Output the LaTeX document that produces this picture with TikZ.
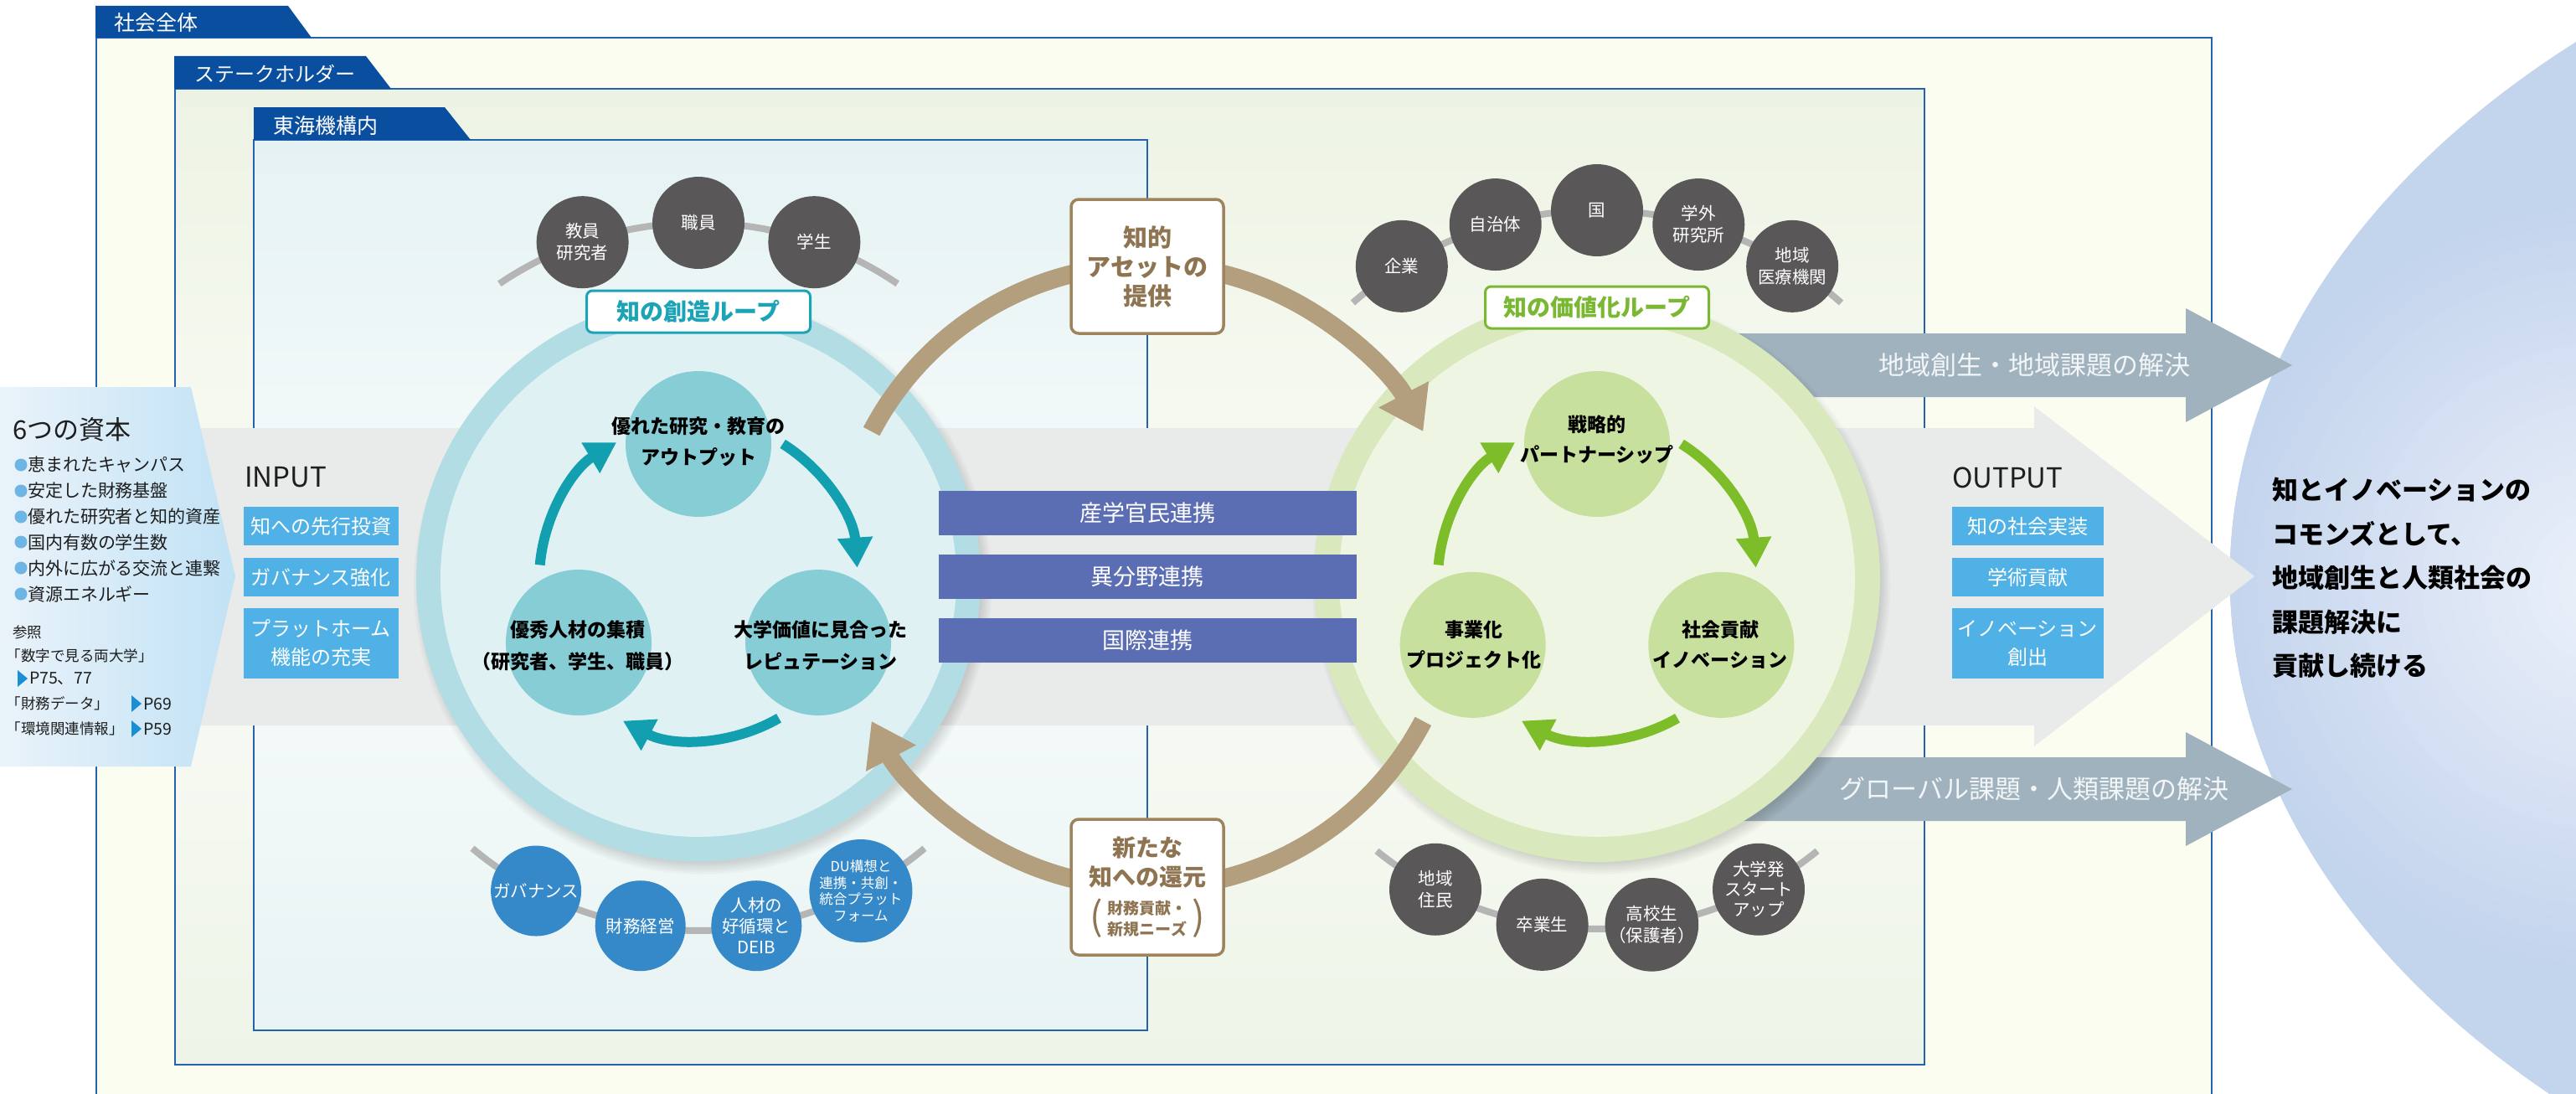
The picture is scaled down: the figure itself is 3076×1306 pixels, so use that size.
\documentclass[tikz,border=0pt]{standalone}
\usepackage{fontspec}
\setmainfont{Noto Sans CJK JP}
\usetikzlibrary{arrows.meta,calc}
\definecolor{tabblue}{HTML}{0A4F9F}
\definecolor{boxline}{HTML}{2462AE}
\definecolor{outerbg}{HTML}{FCFDF1}
\definecolor{shtop}{HTML}{EDF3E4}
\definecolor{shmid}{HTML}{FAFCF6}
\definecolor{shbot}{HTML}{EEF4E8}
\definecolor{intop}{HTML}{E5F2F3}
\definecolor{inmid}{HTML}{F9FCFC}
\definecolor{inbot}{HTML}{E8F3F3}
\definecolor{ellout}{HTML}{C3D4ED}
\definecolor{ellin}{HTML}{EBF0F9}
\definecolor{bandgrey}{HTML}{E9EBEA}
\definecolor{slate}{HTML}{9FB2BD}
\definecolor{slatetext}{HTML}{F3F6F8}
\definecolor{pentL}{HTML}{EAF3FA}
\definecolor{pentR}{HTML}{C1E2F5}
\definecolor{bulletc}{HTML}{6DB5E4}
\definecolor{tric}{HTML}{1A8FD6}
\definecolor{inblue}{HTML}{4FB1E5}
\definecolor{tealring}{HTML}{B3DDE4}
\definecolor{tealin}{HTML}{E0F1F4}
\definecolor{tealcirc}{HTML}{86CDD6}
\definecolor{tealarrow}{HTML}{12A0B0}
\definecolor{tealline}{HTML}{1BA4B6}
\definecolor{greenring}{HTML}{D9E9BD}
\definecolor{greenin}{HTML}{EEF5E3}
\definecolor{greencirc}{HTML}{C7E09D}
\definecolor{greenarrow}{HTML}{7DBD2A}
\definecolor{greenline}{HTML}{7AB833}
\definecolor{satdark}{HTML}{5A5758}
\definecolor{satblue}{HTML}{3689C9}
\definecolor{satarc}{HTML}{B5B5B5}
\definecolor{brownarc}{HTML}{B39E7E}
\definecolor{brownline}{HTML}{9E845D}
\definecolor{browntext}{HTML}{8E7451}
\definecolor{collabc}{HTML}{5C6EB3}
\definecolor{textdark}{HTML}{1E1E1E}
\newcommand\fsz[2]{\fontsize{#1}{#2}\selectfont}
\begin{document}
\begin{tikzpicture}[x=1pt,y=-1pt,
  every node/.style={inner sep=0pt, outer sep=0pt, text=textdark},
  tabtxt/.style={anchor=west, text=white, font=\fsz{25}{30}},
  boxborder/.style={draw=boxline, line width=2.5pt},
  inbox/.style={fill=inblue, text=white, font=\fsz{24}{34}, minimum width=185pt, align=center},
  collab/.style={fill=collabc, text=white, font=\fsz{27}{32}, minimum width=499pt, minimum height=53pt},
  sat/.style={circle, fill=satdark, minimum size=110pt, text=white, font=\fsz{20.5}{26}, align=center},
  bsat/.style={circle, fill=satblue, minimum size=108pt, text=white, font=\fsz{20.5}{25}, align=center},
  satarcs/.style={draw=satarc, line width=8pt},
  tcirc/.style={circle, fill=tealcirc, minimum size=174pt},
  gcirc/.style={circle, fill=greencirc, minimum size=174pt},
  looptxt/.style={font=\bfseries\fsz{23}{37}, align=center, text=black},
  tarrow/.style={draw=tealarrow, line width=12pt, -{Triangle[length=36pt,width=40pt]}},
  garrow/.style={draw=greenarrow, line width=12pt, -{Triangle[length=36pt,width=40pt]}},
  barrow/.style={draw=brownarc, line width=22pt, -{Triangle[length=50pt,width=64pt]}},
  looplabel/.style={fill=white, line width=3pt, rounded corners=7pt, minimum width=267pt, minimum height=50pt, font=\bfseries\fsz{28}{32}},
  brownbox/.style={draw=brownline, fill=white, line width=3.5pt, rounded corners=9pt, minimum width=182pt, text=browntext, font=\bfseries\fsz{29}{35}, align=center},
  slatetxt/.style={text=slatetext, font=\fsz{31}{36}},
  reftxt/.style={anchor=west, font=\fsz{17.5}{22}},
  pagetxt/.style={anchor=west, font=\fsz{19.5}{22}},
]
\useasboundingbox (0,0) rectangle (3076,1306);
% ---------- nested boxes ----------
\fill[outerbg] (115,45) rectangle (2641,1330);
\draw[boxborder] (115,1330) -- (115,45) -- (2641,45) -- (2641,1330);
\fill[tabblue] (114,7) -- (344,7) -- (372,45) -- (114,45) -- cycle;
\node[tabtxt] (t1) at (136,27) {社会全体};
\shade[top color=shtop, bottom color=shbot, middle color=shmid] (209,106) rectangle (2298,1271);
\draw[boxborder] (209,106) rectangle (2298,1271);
\fill[tabblue] (208,67) -- (437,67) -- (467,106) -- (208,106) -- cycle;
\node[tabtxt, font=\fsz{24}{30}] (t2) at (232,88) {ステークホルダー};
\shade[top color=intop, bottom color=inbot, middle color=inmid] (303,167) rectangle (1370,1230);
\draw[boxborder] (303,167) rectangle (1370,1230);
\fill[tabblue] (303,128) -- (531,128) -- (562,167) -- (303,167) -- cycle;
\node[tabtxt] (t3) at (326,150) {東海機構内};
% ---------- goal ellipse ----------
\path[fill=ellout] (3076,50) arc[start angle=-133.7, end angle=-226.3, x radius=1337, y radius=883] -- (3090,1330) -- (3090,30) -- cycle;
\begin{scope}
\clip (3076,50) arc[start angle=-133.7, end angle=-226.3, x radius=1337, y radius=883] -- (3090,1330) -- (3090,30) -- cycle;
\foreach \i in {0,...,24}{
  \pgfmathtruncatemacro\pc{\i*4}
  \pgfmathsetmacro\rr{470-\i*18}
  \fill[ellin!\pc!ellout] (3110,700) circle (\rr);
}
\end{scope}
% ---------- big band arrow ----------
\fill[bandgrey] (240,511) -- (2429,511) -- (2429,485) -- (2692,688) -- (2429,891) -- (2429,866) -- (240,866) -- cycle;
% ---------- slate arrows ----------
\fill[slate] (1990,398) -- (2610,398) -- (2610,368) -- (2737,436) -- (2610,504) -- (2610,474) -- (1990,474) -- cycle;
\fill[slate] (1990,904) -- (2610,904) -- (2610,874) -- (2737,942) -- (2610,1010) -- (2610,980) -- (1990,980) -- cycle;
\node[slatetxt] (ar1) at (2429,436) {地域創生・地域課題の解決};
\node[slatetxt] (ar2) at (2429,942) {グローバル課題・人類課題の解決};
% ---------- capital pentagon ----------
\shade[left color=pentL, right color=pentR] (0,462) -- (228,462) -- (281,688) -- (228,915) -- (0,915) -- cycle;
\node[anchor=west, font=\fsz{31}{34}] (cap) at (15,513) {6つの資本};
\foreach \yy/\txt in {555/恵まれたキャンパス, 586/安定した財務基盤, 617/優れた研究者と知的資産, 647/国内有数の学生数, 678/内外に広がる交流と連繋, 709/資源エネルギー}{
  \fill[bulletc] (25,\yy) circle (7.5);
  \node[anchor=west, font=\fsz{21}{24}] (cap\yy) at (33,\yy) {\txt};
}
\node[reftxt] (ref0) at (15,755) {参照};
\node[reftxt] (ref1) at (8,783) {「数字で見る両大学」};
\fill[tric] (21,800) -- (33,810) -- (21,820) -- cycle;
\node[pagetxt] (ref1p) at (35,810) {P75、77};
\node[reftxt] (ref2) at (8,840) {「財務データ」};
\fill[tric] (157,830) -- (169,840) -- (157,850) -- cycle;
\node[pagetxt] (ref2p) at (171,840) {P69};
\node[reftxt] (ref3) at (8,870) {「環境関連情報」};
\fill[tric] (157,860) -- (169,870) -- (157,880) -- cycle;
\node[pagetxt] (ref3p) at (171,870) {P59};
% ---------- INPUT / OUTPUT ----------
\node[anchor=west, font=\fsz{33}{36}] (input) at (292,570) {INPUT};
\node[inbox, minimum height=46pt] (in1) at (383,628) {知への先行投資};
\node[inbox, minimum height=46pt] (in2) at (383,689) {ガバナンス強化};
\node[inbox, minimum height=84pt] (in3) at (383,768) {プラットホーム\\機能の充実};
\node[anchor=west, font=\fsz{33}{36}] (output) at (2331,570) {OUTPUT};
\node[inbox, minimum width=181pt, minimum height=46pt] (o1) at (2421,628) {知の社会実装};
\node[inbox, minimum width=181pt, minimum height=46pt] (o2) at (2421,689) {学術貢献};
\node[inbox, minimum width=181pt, minimum height=84pt] (o3) at (2421,768) {イノベーション\\創出};
% ---------- centres ----------
\coordinate (L) at (834,691);
\coordinate (R) at (1907,691);
\coordinate (B) at (1370,688);
% ---------- satellite arcs ----------
\draw[satarcs] (L) ++(-124:425) arc[start angle=-124, end angle=-56, radius=425];
\draw[satarcs] (L) ++(50:420) arc[start angle=50, end angle=130, radius=420];
\draw[satarcs] (R) ++(-131.5:440) arc[start angle=-131.5, end angle=-48.5, radius=440];
\draw[satarcs] (R) ++(51:418) arc[start angle=51, end angle=129, radius=418];
% ---------- loops ----------
\foreach \k in {1,...,6}{
  \fill[black, opacity=0.022] ($(L)+(5,8)$) circle (330+2.5*\k);
  \fill[black, opacity=0.022] ($(R)+(5,8)$) circle (330+2.5*\k);
}
\fill[tealring] (L) circle (337);
\fill[tealin] (L) circle (308);
\fill[greenring] (R) circle (338);
\fill[greenin] (R) circle (308);
\node[tcirc] (lc1) at ($(L)+(-90:161)$) {};
\node[tcirc] (lc2) at ($(L)+(152:162)$) {};
\node[tcirc] (lc3) at ($(L)+(28:162)$) {};
\node[gcirc] (rc1) at ($(R)+(-90:161)$) {};
\node[gcirc] (rc2) at ($(R)+(152:168)$) {};
\node[gcirc] (rc3) at ($(R)+(28:168)$) {};
\node[looptxt] (lt1) at (834,527) {優れた研究・教育の\\アウトプット};
\node[looptxt, font=\bfseries\fsz{23}{38}] (lt2) at (690,771) {優秀人材の集積\\（研究者、学生、職員）};
\node[looptxt, font=\bfseries\fsz{23}{38}] (lt3) at (980,771) {大学価値に見合った\\レピュテーション};
\node[looptxt, font=\bfseries\fsz{23}{36}] (rt1) at (1907,525) {戦略的\\パートナーシップ};
\node[looptxt, font=\bfseries\fsz{23}{36}] (rt2) at (1760,770) {事業化\\プロジェクト化};
\node[looptxt, font=\bfseries\fsz{23}{36}] (rt3) at (2054,770) {社会貢献\\イノベーション};
\draw[tarrow] (L) ++(-175:190) arc[start angle=-175, end angle=-121, radius=190];
\draw[tarrow] (L) ++(-58:190) arc[start angle=-58, end angle=-4, radius=190];
\draw[tarrow] (L) ++(60:192) arc[start angle=60, end angle=118, radius=192];
\draw[garrow] (R) ++(-175:190) arc[start angle=-175, end angle=-121, radius=190];
\draw[garrow] (R) ++(-58:190) arc[start angle=-58, end angle=-4, radius=190];
\draw[garrow] (R) ++(60:192) arc[start angle=60, end angle=118, radius=192];
% ---------- brown arcs ----------
\draw[barrow] (B) ++(-152.3:372) arc[start angle=-152.3, end angle=-27.7, radius=372];
\draw[barrow] (B) ++(27.7:372) arc[start angle=27.7, end angle=152.3, radius=372];
% ---------- collaboration bars ----------
\node[collab] (c1) at (1370,612) {産学官民連携};
\node[collab] (c2) at (1370,688) {異分野連携};
\node[collab] (c3) at (1370,764) {国際連携};
% ---------- labels ----------
\node[looplabel, draw=tealline, text=tealline] (lab1) at (834,372) {知の創造ループ};
\node[looplabel, draw=greenline, text=greenline] (lab2) at (1907,367) {知の価値化ループ};
\node[brownbox, minimum height=160pt] (kb1) at (1370,318) {知的\\アセットの\\提供};
\node[brownbox, minimum height=162pt] (kb2) at (1370,1059) {};
\node[font=\bfseries\fsz{28}{35}, text=browntext, align=center] (kb2a) at (1370,1029) {新たな\\知への還元};
\node[font=\bfseries\fsz{19}{25}, text=browntext, align=center] (kb2b) at (1370,1097) {財務貢献・\\新規ニーズ};
\node[font=\fsz{46}{46}, text=browntext] (kb2l) at (1309,1096) {(};
\node[font=\fsz{46}{46}, text=browntext] (kb2r) at (1431,1096) {)};
% ---------- satellites ----------
\node[sat] (s1) at ($(L)+(-109:425)$) {教員\\研究者};
\node[sat] (s2) at ($(L)+(-90:425)$) {職員};
\node[sat] (s3) at ($(L)+(-71:425)$) {学生};
\node[bsat] (b1) at ($(L)+(117.5:420)$) {ガバナンス};
\node[bsat] (b2) at ($(L)+(99.5:420)$) {財務経営};
\node[bsat] (b3) at ($(L)+(80.5:420)$) {人材の\\好循環と\\DEIB};
\node[bsat, font=\fsz{16.5}{19.5}] (b4) at ($(L)+(62.5:420)$) {DU構想と\\連携・共創・\\統合プラット\\フォーム};
\node[sat] (r1) at ($(R)+(-122:440)$) {企業};
\node[sat] (r2) at ($(R)+(-106:440)$) {自治体};
\node[sat] (r3) at ($(R)+(-90:440)$) {国};
\node[sat] (r4) at ($(R)+(-74:440)$) {学外\\研究所};
\node[sat] (r5) at ($(R)+(-58:440)$) {地域\\医療機関};
\node[sat] (q1) at ($(R)+(117.5:418)$) {地域\\住民};
\node[sat] (q2) at ($(R)+(99:418)$) {卒業生};
\node[sat] (q3) at ($(R)+(81:418)$) {高校生\\（保護者）};
\node[sat, font=\fsz{20.5}{24}] (q4) at ($(R)+(62.5:418)$) {大学発\\スタート\\アップ};
% ---------- goal text ----------
\node[anchor=west, align=left, font=\bfseries\fsz{31}{52.5}, text=black] (goal) at (2713,690) {知とイノベーションの\\コモンズとして、\\地域創生と人類社会の\\課題解決に\\貢献し続ける};
\end{tikzpicture}
\end{document}
